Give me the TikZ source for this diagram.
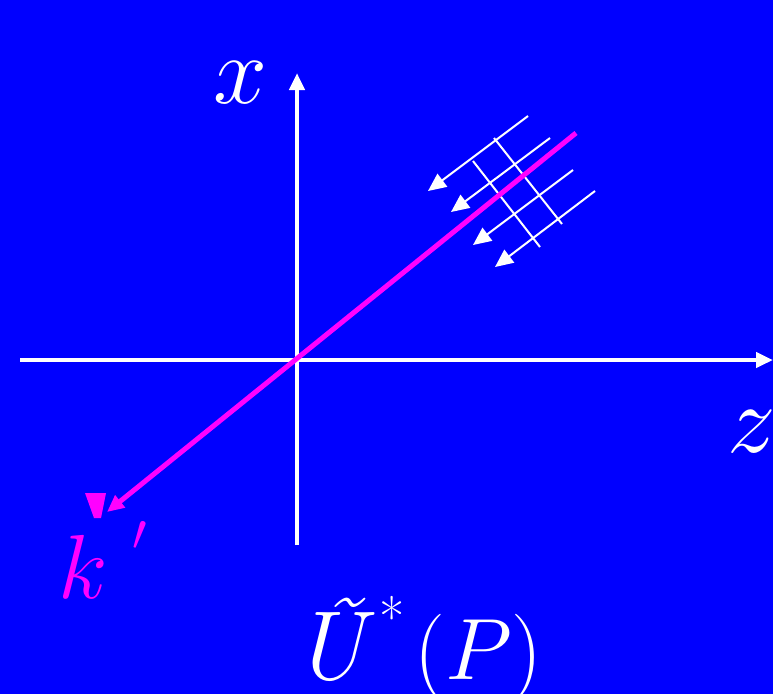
\RequirePackage{fix-cm}
\documentclass[tikz,border=0pt]{standalone}
\usetikzlibrary{arrows.meta}
\definecolor{bgblue}{RGB}{0,0,255}
\definecolor{mag}{RGB}{255,0,255}
\begin{document}
\begin{tikzpicture}[x=1pt,y=-1pt,
 axis/.style={draw=white,line width=4.5pt,-{Triangle[length=17pt,width=15pt]}},
 wave/.style={draw=white,line width=2pt,-{Triangle[length=18pt,width=16pt]}},
 front/.style={draw=white,line width=2pt},
 lbl/.style={inner sep=0pt,anchor=base,text=white,font=\fontsize{97}{97}\selectfont}]
\useasboundingbox (0,0) rectangle (773,694);
\fill[bgblue] (0,0) rectangle (773,694);
% axes
\coordinate (xb) at (297,545);
\coordinate (xt) at (297,73);
\coordinate (zl) at (20,360);
\coordinate (zr) at (773,360);
\draw[axis] (zl) -- (zr);
\draw[axis] (xb) -- (xt);
% wave arrows
\coordinate (a1s) at (528,116); \coordinate (a1e) at (428,191);
\coordinate (a2s) at (550,138); \coordinate (a2e) at (451,212);
\coordinate (a3s) at (573,170); \coordinate (a3e) at (473,245);
\coordinate (a4s) at (595,191); \coordinate (a4e) at (495,267);
\draw[wave] (a1s) -- (a1e);
\draw[wave] (a2s) -- (a2e);
\draw[wave] (a3s) -- (a3e);
\draw[wave] (a4s) -- (a4e);
% wave fronts
\coordinate (f1s) at (494,138); \coordinate (f1e) at (562,224);
\coordinate (f2s) at (473,161); \coordinate (f2e) at (540,247);
\draw[front] (f1s) -- (f1e);
\draw[front] (f2s) -- (f2e);
% k' vector
\coordinate (ks) at (576,133);
\coordinate (ke) at (107,512);
\draw[mag,line width=5pt,-{Triangle[length=17pt,width=15pt]}] (ks) -- (ke);
% labels
\node[lbl] (xlab) at (240,103) {$x$};
\node[lbl] (zlab) at (752,452) {$z$};
\node[lbl,text=mag,font=\fontsize{91}{91}\selectfont] (klab) at (83,598) {$k$};
\fill[mag] (85,493) -- (106,493) -- (101,518) -- (94,518) -- cycle;
\node[inner sep=0pt,text=mag,font=\fontsize{52}{52}\selectfont] (prime) at (140,536) {$\prime$};
\node[lbl,font=\fontsize{98}{98}\selectfont\itshape] (ulab) at (329,679) {\~{U}};
\node[inner sep=0pt,text=white,font=\fontsize{55}{55}\selectfont] (star) at (392,617) {*};
\node[inner sep=0pt,anchor=base west,text=white,font=\fontsize{87}{87}\selectfont] (plab) at (414,679) {$(P)$};
\end{tikzpicture}
\end{document}
